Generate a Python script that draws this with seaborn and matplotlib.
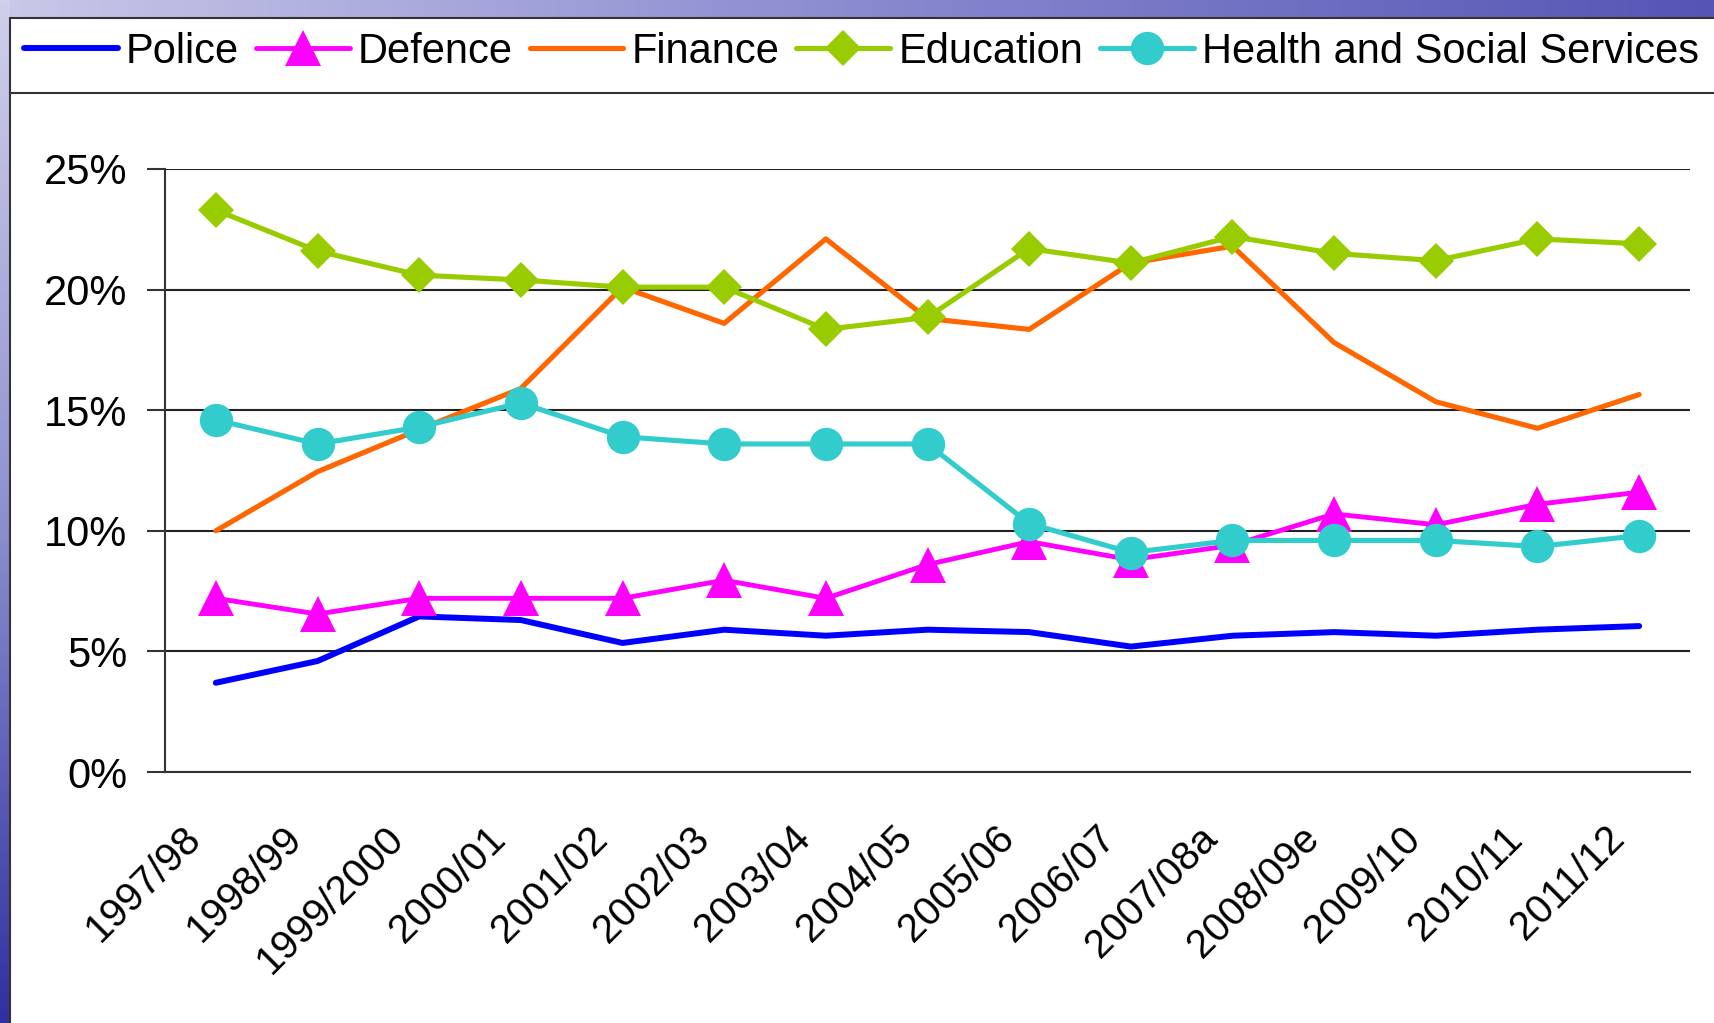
import numpy as np
import pandas as pd
import matplotlib
matplotlib.use("Agg")
import matplotlib.pyplot as plt
import seaborn as sns
from matplotlib.patches import Rectangle

years = ["1997/98", "1998/99", "1999/2000", "2000/01", "2001/02", "2002/03", "2003/04",
         "2004/05", "2005/06", "2006/07", "2007/08a", "2008/09e", "2009/10", "2010/11", "2011/12"]
police = [3.7, 4.6, 6.45, 6.3, 5.35, 5.9, 5.65, 5.9, 5.8, 5.2, 5.65, 5.8, 5.65, 5.9, 6.05]
defence = [7.2, 6.55, 7.2, 7.2, 7.2, 7.95, 7.2, 8.6, 9.55, 8.8, 9.4, 10.7, 10.25, 11.1, 11.6]
finance = [10.0, 12.45, 14.2, 15.9, 20.1, 18.6, 22.1, 18.8, 18.35, 21.1, 21.8, 17.8, 15.35, 14.25, 15.65]
education = [23.3, 21.6, 20.6, 20.4, 20.1, 20.1, 18.35, 18.85, 21.7, 21.1, 22.2, 21.5, 21.2, 22.1, 21.9]
health = [14.6, 13.6, 14.3, 15.3, 13.9, 13.6, 13.6, 13.6, 10.3, 9.1, 9.6, 9.6, 9.6, 9.35, 9.8]
series_names = ["Police", "Defence", "Finance", "Education", "Health and Social Services"]
y_ticks = [0, 5, 10, 15, 20, 25]

sns.set_theme(style="white")
plt.rcParams["font.family"] = ["Liberation Sans", "DejaVu Sans"]

W, H = 1715, 1023
fig = plt.figure(figsize=(W / 100, H / 100), dpi=100)
fig.patch.set_facecolor("white")

# decorative blue gradient frame (left and top)
grad_top = fig.add_axes([0, 1 - 17 / H, 1, 17 / H])
grad_top.imshow(np.linspace(0, 1, 256)[None, :], aspect="auto",
                cmap=matplotlib.colors.LinearSegmentedColormap.from_list("t", ["#c8c8e8", "#8a8ad0", "#5555b5"]))
grad_top.axis("off")
grad_left = fig.add_axes([0, 0, 10 / W, 1])
grad_left.imshow(np.linspace(0, 1, 256)[:, None], aspect="auto",
                 cmap=matplotlib.colors.LinearSegmentedColormap.from_list("l", ["#d0d0ec", "#9090d0", "#3030a0"]))
grad_left.axis("off")

# legend box
fig.patches.append(Rectangle((10 / W, 1 - 93 / H), 1.0, (93 - 18) / H,
                             transform=fig.transFigure, facecolor="white",
                             edgecolor="#333333", linewidth=1.5, zorder=0))
fig.add_artist(plt.Line2D([10 / W, 10 / W], [0, 1 - 93 / H], transform=fig.transFigure,
                          color="#333333", linewidth=1.5))

ax = fig.add_axes([165 / W, 1 - 772 / H, (1690 - 165) / W, (772 - 169) / H])
ax.set_facecolor("white")

x = np.arange(len(years))
df = pd.DataFrame({"x": x, "Police": police, "Defence": defence, "Finance": finance,
                   "Education": education, "Health and Social Services": health})

styles = {
    "Police": dict(color="#0000FF", marker=None, lw=4.3, ms=0),
    "Defence": dict(color="#FF00FF", marker="^", lw=3.5, ms=26),
    "Finance": dict(color="#FF6600", marker=None, lw=3.7, ms=0),
    "Education": dict(color="#99CC00", marker="D", lw=3.7, ms=18),
    "Health and Social Services": dict(color="#33CCCC", marker="o", lw=3.7, ms=24),
}
for name in series_names:
    st = styles[name]
    kw = dict(marker=st["marker"], markersize=st["ms"], markeredgewidth=0) if st["marker"] else {}
    sns.lineplot(data=df, x="x", y=name, ax=ax, color=st["color"], linewidth=st["lw"],
                 label=name, legend=False, **kw)

ax.set_xlim(-0.5, len(years) - 0.5)
ax.set_ylim(0, 25)
ax.set_yticks(y_ticks)
ax.set_yticklabels([f"{v}%" for v in y_ticks], fontsize=30)

# category labels, rotated, placed under each category
ax.set_xticks(x)
ax.set_xticklabels([""] * len(years))
for i, lab in enumerate(years):
    ax.annotate(lab, xy=(i, 0), xycoords=("data", "axes fraction"),
                xytext=(-25, -34), textcoords="offset points",
                rotation=45, ha="right", va="top", rotation_mode="anchor",
                fontsize=29, color="black", annotation_clip=False)
ax.set_xticks(np.arange(-0.5, len(years)), minor=True)
ax.tick_params(axis="x", which="major", length=0)
ax.tick_params(axis="x", which="minor", length=13, width=1.5, color="#333333", direction="out")
ax.tick_params(axis="y", length=13, width=1.5, color="#333333", direction="out", pad=14, left=True,
               labelcolor="black")
ax.grid(axis="y", color="#222222", linewidth=1.5)
ax.grid(axis="x", visible=False)
ax.set_xlabel("")
ax.set_ylabel("")
for s in ["top", "right"]:
    ax.spines[s].set_visible(False)
for s in ["left", "bottom"]:
    ax.spines[s].set_color("#333333")
    ax.spines[s].set_linewidth(1.5)

handles, labels = ax.get_legend_handles_labels()
leg = fig.legend(handles, labels, loc="center left", bbox_to_anchor=(24 / W, 1 - 52 / H),
                 ncol=5, frameon=False, handlelength=2.25, handletextpad=0.2,
                 columnspacing=0.4, borderaxespad=0, borderpad=0,
                 prop={"family": ["Liberation Sans", "DejaVu Sans"], "size": 30})
for t in leg.get_texts():
    t.set_color("black")

fig.savefig("out.png", dpi=100, facecolor="white")
